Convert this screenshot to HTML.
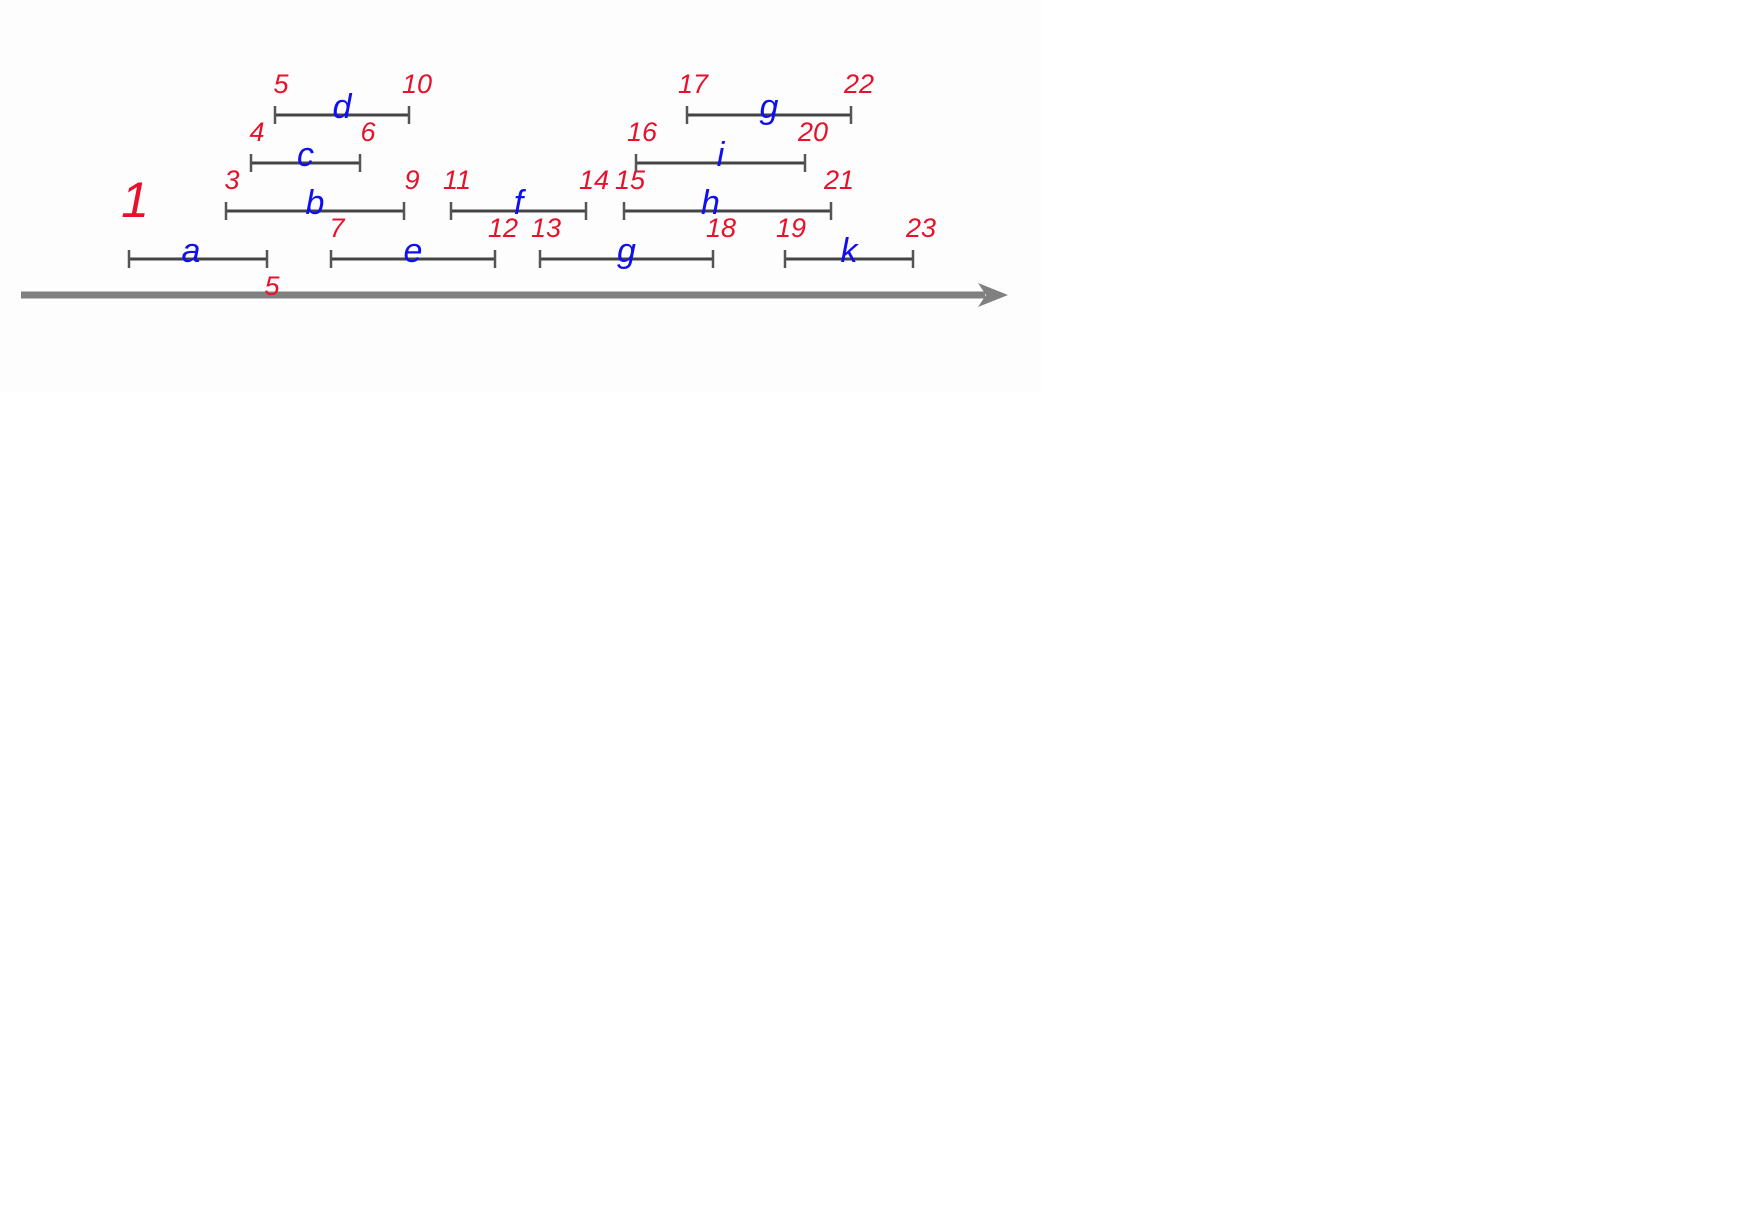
<!DOCTYPE html>
<html><head><meta charset="utf-8"><style>
html,body{margin:0;padding:0;background:#fff;width:1745px;height:1216px;overflow:hidden}
svg{display:block}
text{font-family:"Liberation Sans",sans-serif;font-style:italic}
</style></head><body>
<svg id="chart" width="1745" height="1216" xmlns="http://www.w3.org/2000/svg">
<rect x="0" y="0" width="1042" height="393" fill="#fdfdfd"/>
<g id="axis">
<line x1="21" y1="295" x2="985" y2="295" stroke="#808080" stroke-width="7"/>
<polygon points="978,283 1008,295 978,307 986,295" fill="#808080"/>
</g>
<g id="marks"></g>
</svg>
<script>
const names=["a","e","g","k","b","f","h","c","i","d","g"];
const starts=[1,7,13,19,3,11,15,4,16,5,17];
const ends=[5,12,18,23,9,14,21,6,20,10,22];
const rows=[0,0,0,0,1,1,1,2,2,3,3];
const startLabels=["1","7","13","19","3","11","15","4","16","5","17"];
const endLabels=["5","12","18","23","9","14","21","6","20","10","22"];
const xStart=[129,331,540,785,226,451,624,251,636,275,687];
const xEnd=[267,495,713,913,404,586,831,360,805,409,851];
function yRow(r){return 259-r*48;}
const g=document.getElementById('marks');
const NS="http://www.w3.org/2000/svg";
function mk(t,a){const e=document.createElementNS(NS,t);for(const k in a)e.setAttribute(k,a[k]);g.appendChild(e);return e;}
for(let i=0;i<names.length;i++){
  const y=yRow(rows[i]), x1=xStart[i], x2=xEnd[i];
  const l=mk('line',{x1:x1,y1:y,x2:x2,y2:y,stroke:'#444','stroke-width':3});
  
  
  [x1,x2].forEach(function(x){
    const t=mk('line',{x1:x,y1:y-9,x2:x,y2:y+9,stroke:'#555','stroke-width':2.5});
    
    
  });
  const nm=mk('text',{x:(x1+x2)/2+(i==0?-7:(i==6?-17:0)),y:y+3,'text-anchor':'middle',fill:'#1010ee','font-size':34});
  nm.textContent=names[i];
  
  
  const s=mk('text',{x:x1+6,y:y-(i==0?42:22),'text-anchor':'middle',fill:'#e8102a','font-size':i==0?50:27});
  s.textContent=startLabels[i];
  
  
  const below=(i==0);
  const e=mk('text',{x:x2+(below?5:8),y:below?y+36:y-22,'text-anchor':'middle',fill:'#e8102a','font-size':27});
  e.textContent=endLabels[i];
  
  
}
</script>
</body></html>
